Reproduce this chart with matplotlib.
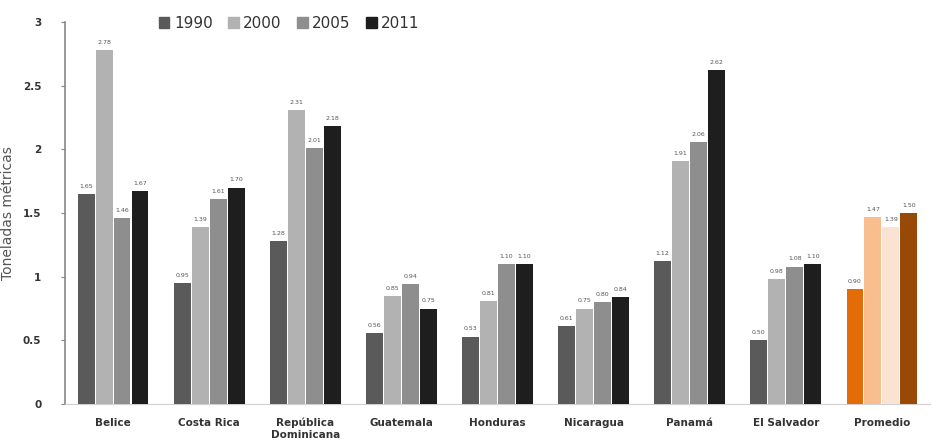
import matplotlib.pyplot as plt
import numpy as np

paises = ["Belice", "Costa Rica", "República\nDominicana", "Guatemala", "Honduras",
          "Nicaragua", "Panamá", "El Salvador", "Promedio"]
anios = ["1990", "2000", "2005", "2011"]
v1990 = [1.65, 0.95, 1.28, 0.56, 0.53, 0.61, 1.12, 0.50, 0.90]
v2000 = [2.78, 1.39, 2.31, 0.85, 0.81, 0.75, 1.91, 0.98, 1.47]
v2005 = [1.46, 1.61, 2.01, 0.94, 1.10, 0.80, 2.06, 1.08, 1.39]
v2011 = [1.67, 1.70, 2.18, 0.75, 1.10, 0.84, 2.62, 1.10, 1.50]

grises = ["#5a5a5a", "#b2b2b2", "#8e8e8e", "#1e1e1e"]
naranjas = ["#e36c09", "#f9be8e", "#fbe3d4", "#984807"]

fig = plt.figure(figsize=(9.33, 4.47), dpi=100)
ax = fig.add_axes([0.0697, 0.096, 0.927, 0.855])

x = np.arange(len(paises))
ancho = 0.175
desp = [-1.5, -0.5, 0.5, 1.5]
series = [v1990, v2000, v2005, v2011]

for k, vals in enumerate(series):
    colores = [grises[k]] * (len(paises) - 1) + [naranjas[k]]
    pos = x + desp[k] * (ancho + 0.012)
    ax.bar(pos, vals, width=ancho, color=colores, label=anios[k], zorder=3)
    for p, v in zip(pos, vals):
        ax.text(p, v + 0.04, f"{v:.2f}", ha="center", va="bottom",
                fontsize=4.5, color="#555555")

ax.set_xlim(-0.5, 8.5)
ax.set_ylim(0, 3)
ax.set_yticks(np.arange(0, 3.01, 0.5))
ax.set_yticklabels(["0", "0.5", "1", "1.5", "2", "2.5", "3"],
                   fontsize=7.5, fontweight="bold", color="#333333")
ax.set_xticks(x)
ax.set_xticklabels(paises, fontsize=7.5, fontweight="bold", color="#333333")
ax.tick_params(axis="x", length=0, pad=10)
ax.tick_params(axis="y", length=3, color="#888888", pad=14)
ax.set_ylabel("Toneladas métricas", fontsize=10, color="#555555")
ax.yaxis.set_label_coords(-0.058, 0.5)

for s in ["top", "right"]:
    ax.spines[s].set_visible(False)
ax.spines["bottom"].set_color("#d0d0d0")
ax.spines["left"].set_color("#888888")
ax.spines["left"].set_linewidth(1.2)

h, l = ax.get_legend_handles_labels()
leg = fig.legend(h, l, loc="upper center", bbox_to_anchor=(0.31, 0.995), ncol=4,
                 frameon=False, fontsize=11, handlelength=0.7, handleheight=0.7,
                 handletextpad=0.3, columnspacing=1.0)
for t in leg.get_texts():
    t.set_color("#333333")
for hd, c in zip(leg.legend_handles, grises):
    hd.set_color(c)

fig.savefig("out.png", dpi=100)
